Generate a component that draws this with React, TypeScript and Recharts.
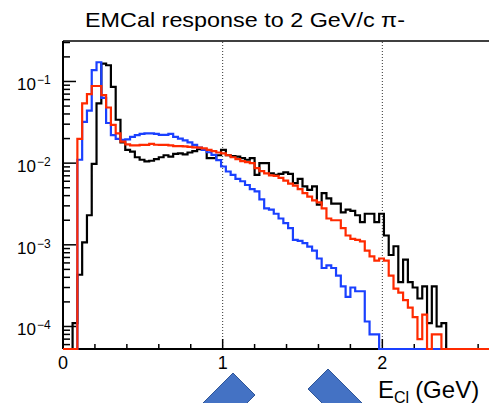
import type { ReactElement } from 'react';
import { Line, LineChart, ReferenceLine, XAxis, YAxis } from 'recharts';

const FONT = '"Liberation Sans", Arial, Helvetica, sans-serif';

const BIN_WIDTH = 0.03; // GeV
const BIN_COUNT = 100;
const Y_MIN = 5.3e-5;
const Y_MAX = 0.313;

// bin contents, bin i covers [i*0.03, (i+1)*0.03] GeV; bins past the end are empty
const blackHist = [
  0, 0, 0.00011, 0.00043, 0.00107, 0.0023, 0.0098, 0.054, 0.165, 0.158,
  0.086, 0.034, 0.018, 0.0145, 0.0138, 0.0118, 0.011, 0.0105, 0.0107, 0.0112,
  0.0118, 0.0125, 0.012, 0.013, 0.0132, 0.0128, 0.0135, 0.014, 0.0148, 0.0145,
  0.0115, 0.0115, 0.0125, 0.0145, 0.0125, 0.0122, 0.012, 0.0115, 0.011, 0.0115,
  0.0072, 0.01, 0.01, 0.0075, 0.0072, 0.0074, 0.0077, 0.0074, 0.0057, 0.0064,
  0.0052, 0.0047, 0.0052, 0.0031, 0.0043, 0.0037, 0.0032, 0.0032, 0.0025, 0.0027,
  0.0026, 0.0023, 0.0019, 0.0024, 0.0024, 0.0019, 0.0024, 0.0013, 0.00075, 0.00096,
  0.00035, 0.00066, 0.00035, 0.0003, 0.00022, 0.00031, 0.00011, 0.00031, 0.0001, 0.00011,
];

const redHist = [
  0, 0, 0, 0.0198, 0.054, 0.07, 0.088, 0.088, 0.068, 0.048,
  0.0294, 0.0232, 0.0183, 0.017, 0.0165, 0.0165, 0.0167, 0.0167, 0.0172, 0.0168,
  0.0167, 0.0167, 0.0165, 0.0162, 0.0162, 0.016, 0.0158, 0.0156, 0.0155, 0.0152,
  0.0145, 0.014, 0.0135, 0.0132, 0.0125, 0.0118, 0.0112, 0.0106, 0.0103, 0.01,
  0.0087, 0.008, 0.0075, 0.0071, 0.007, 0.0066, 0.0061, 0.0056, 0.0053, 0.0048,
  0.0043, 0.0039, 0.0035, 0.0033, 0.0028, 0.0021, 0.002, 0.002, 0.0016, 0.0013,
  0.00118, 0.00115, 0.0011, 0.00085, 0.00072, 0.00064, 0.00068, 0.00064, 0.00042, 0.00029,
  0.00026, 0.00021, 0.00017, 0.00013, 0.00007, 0.00014, 0, 0.00008, 0.00008,
];

const blueHist = [
  0, 0, 0, 0.011, 0.032, 0.044, 0.138, 0.172, 0.063, 0.031,
  0.022, 0.0198, 0.0193, 0.0195, 0.021, 0.022, 0.0228, 0.0232, 0.0232, 0.0228,
  0.0222, 0.0222, 0.0228, 0.021, 0.02, 0.019, 0.018, 0.0167, 0.0155, 0.0145,
  0.0136, 0.0126, 0.0109, 0.0091, 0.0079, 0.0072, 0.0064, 0.006, 0.0054, 0.0048,
  0.0045, 0.0036, 0.0028, 0.0027, 0.0024, 0.0021, 0.00184, 0.0016, 0.00115, 0.00112,
  0.00105, 0.00095, 0.00085, 0.00068, 0.00052, 0.00056, 0.00052, 0.00042, 0.00031, 0.00023,
  0.0003, 0.00027, 0.00027, 0.000115, 0.00008, 0.00008,
];

const X_TICKS = [0, 0.2, 0.4, 0.6, 0.8, 1, 1.2, 1.4, 1.6, 1.8, 2, 2.2, 2.4, 2.6, 2.8];
const Y_DECADES = [1e-5, 1e-4, 1e-3, 1e-2, 1e-1];
const Y_TICKS = Y_DECADES.flatMap((d) => [1, 2, 3, 4, 5, 6, 7, 8, 9].map((m) => m * d)).filter(
  (v) => v >= Y_MIN && v <= Y_MAX,
);

// empty bins sit on the bottom of the log axis, like ROOT draws them
const floor = (v: number | undefined): number => (v && v > Y_MIN ? v : Y_MIN);

const rows = Array.from({ length: BIN_COUNT + 1 }, (_, i) => ({
  x: i * BIN_WIDTH,
  black: floor(blackHist[i]),
  red: floor(redHist[i]),
  blue: floor(blueHist[i]),
}));

const CHART_W = 542;
const CHART_H = 403;
const PLOT_LEFT = 63;
const PLOT_TOP = 41;
const X_AXIS_H = 54;

type TickProps = { x?: number; y?: number; payload?: { value: number } };

function XTick({ x = 0, y = 0, payload }: TickProps): ReactElement {
  const value = payload ? payload.value : 0;
  const major = Math.abs(value - Math.round(value)) < 1e-6;
  return (
    <g>
      <line x1={x} x2={x} y1={y} y2={y - (major ? 10 : 5)} stroke="#000" strokeWidth={1.5} />
      {major && (
        <text x={x} y={y + 20} textAnchor="middle" fontSize={18} fontFamily={FONT} fill="#000">
          {Math.round(value)}
        </text>
      )}
    </g>
  );
}

function YTick({ x = 0, y = 0, payload }: TickProps): ReactElement {
  const exp = Math.log10(payload ? payload.value : 1);
  const major = Math.abs(exp - Math.round(exp)) < 1e-6;
  return (
    <g>
      <line x1={x} x2={x + (major ? 13 : 7)} y1={y} y2={y} stroke="#000" strokeWidth={1.5} />
      {major && (
        <g fontFamily={FONT} fill="#000">
          <text x={x - 27} y={y + 9} textAnchor="end" fontSize={17}>
            10
          </text>
          <text x={x - 26} y={y + 3} fontSize={12}>
            {'\u2212' + String(-Math.round(exp))}
          </text>
        </g>
      )}
    </g>
  );
}

const layer = { position: 'absolute', left: 0, top: 0 } as const;

// frame, ticks and dotted guides; the histograms are drawn on a second chart on top
function Frame(): ReactElement {
  return (
    <LineChart
      width={CHART_W}
      height={CHART_H}
      data={rows}
      margin={{ top: PLOT_TOP, right: 0, bottom: 0, left: 0 }}
      style={layer}
    >
      <XAxis
        dataKey="x"
        type="number"
        domain={[0, 3]}
        ticks={X_TICKS}
        interval={0}
        tickSize={0}
        tickMargin={0}
        tickLine={false}
        tick={(p: TickProps) => <XTick {...p} />}
        axisLine={{ stroke: '#000', strokeWidth: 2 }}
        height={X_AXIS_H}
      />
      <YAxis
        type="number"
        scale="log"
        domain={[Y_MIN, Y_MAX]}
        ticks={Y_TICKS}
        interval={0}
        tickSize={0}
        tickMargin={0}
        tickLine={false}
        tick={(p: TickProps) => <YTick {...p} />}
        axisLine={{ stroke: '#000', strokeWidth: 2 }}
        width={PLOT_LEFT}
      />
      {/* invisible series so the axes get their scales */}
      <Line
        dataKey="black"
        stroke="none"
        dot={false}
        activeDot={false}
        isAnimationActive={false}
      />
      <ReferenceLine y={Y_MAX} stroke="#000" strokeWidth={1.5} />
      <ReferenceLine x={1} stroke="#333" strokeWidth={1} strokeDasharray="1 2" />
      <ReferenceLine x={2} stroke="#333" strokeWidth={1} strokeDasharray="1 2" />
    </LineChart>
  );
}

function Histograms(): ReactElement {
  return (
    <LineChart
      width={CHART_W}
      height={CHART_H}
      data={rows}
      margin={{ top: PLOT_TOP, right: 0, bottom: X_AXIS_H, left: PLOT_LEFT }}
      style={layer}
    >
      <XAxis dataKey="x" type="number" domain={[0, 3]} hide />
      <YAxis type="number" scale="log" domain={[Y_MIN, Y_MAX]} hide />
      <Line
        type="stepAfter"
        dataKey="black"
        stroke="#000"
        strokeWidth={2.2}
        dot={false}
        activeDot={false}
        isAnimationActive={false}
      />
      <Line
        type="stepAfter"
        dataKey="blue"
        stroke="#1a40ff"
        strokeWidth={2.2}
        dot={false}
        activeDot={false}
        isAnimationActive={false}
      />
      <Line
        type="stepAfter"
        dataKey="red"
        stroke="#ff2a00"
        strokeWidth={2.2}
        dot={false}
        activeDot={false}
        isAnimationActive={false}
      />
    </LineChart>
  );
}

export default function App(): ReactElement {
  return (
    <div
      style={{
        position: 'absolute',
        left: 0,
        top: 0,
        width: 489,
        height: 403,
        overflow: 'hidden',
        background: '#fff',
        fontFamily: FONT,
      }}
    >
      <Frame />
      <Histograms />
      <svg width={489} height={403} style={{ ...layer, pointerEvents: 'none' }} fontFamily={FONT}>
        <text x={85} y={27} fontSize={21} textLength={320} lengthAdjust="spacingAndGlyphs" fill="#000">
          EMCal response to 2 GeV/c π-
        </text>
        <text x={378} y={398} fontSize={24} fill="#000">
          E
          <tspan fontSize={16} dy={5}>
            Cl
          </tspan>
          <tspan dy={-5} dx={6}>
            (GeV)
          </tspan>
        </text>
        <polygon points="233,373 255,395 218,432 196,410" fill="#4472C4" stroke="#2F5597" strokeWidth={1} />
        <polygon points="308,389 328,369 370,411 350,431" fill="#4472C4" stroke="#2F5597" strokeWidth={1} />
      </svg>
    </div>
  );
}
